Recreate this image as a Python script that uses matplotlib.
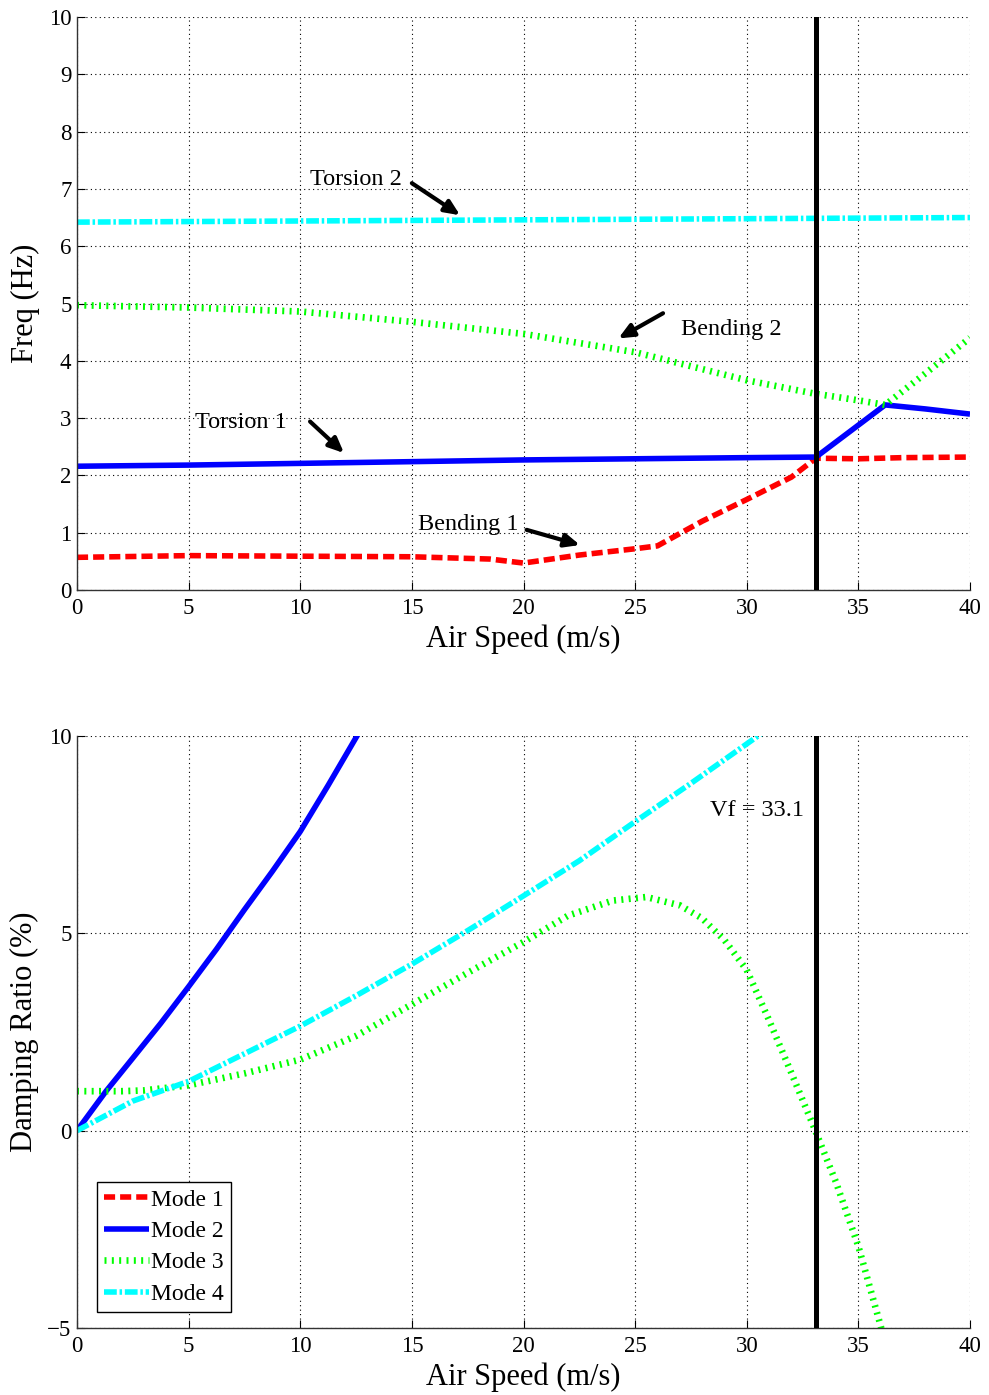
import matplotlib
matplotlib.use("Agg")
import matplotlib.pyplot as plt

# ---------------- data ----------------
# Frequency plot (Hz)
v_m1_f = [0, 5, 10, 15, 18.5, 20, 22.5, 25, 26, 28, 30, 32, 33.1, 35, 37, 40]
f_m1 = [0.57, 0.60, 0.59, 0.58, 0.54, 0.47, 0.61, 0.72, 0.77, 1.20, 1.58, 1.97, 2.30, 2.29, 2.31, 2.32]

v_m2_f = [0, 5, 10, 15, 20, 25, 30, 33.1, 36.2, 38, 40]
f_m2 = [2.16, 2.18, 2.21, 2.24, 2.27, 2.29, 2.31, 2.32, 3.23, 3.16, 3.07]

v_m3_f = [0, 5, 10, 15, 20, 25, 30, 33, 35, 36.2, 38, 40]
f_m3 = [4.97, 4.93, 4.86, 4.68, 4.47, 4.15, 3.66, 3.43, 3.31, 3.23, 3.78, 4.40]

v_m4_f = [0, 10, 20, 30, 40]
f_m4 = [6.42, 6.44, 6.46, 6.48, 6.50]

# Damping plot (%)
v_m2_d = [0, 1.3, 2.5, 3.75, 5, 6.25, 7.5, 8.75, 10, 11.25, 12.54, 14]
d_m2 = [0, 1.0, 1.84, 2.72, 3.65, 4.6, 5.6, 6.57, 7.58, 8.75, 10.0, 11.5]

v_m3_d = [0, 2, 3, 5, 7.5, 10, 12.5, 15, 17.5, 20, 22, 24, 25.5, 27, 28, 29, 30, 31, 32, 33, 34, 35, 36, 36.5]
d_m3 = [1.0, 1.0, 1.02, 1.15, 1.45, 1.8, 2.4, 3.2, 4.0, 4.78, 5.45, 5.83, 5.92, 5.71, 5.38, 4.83, 4.07,
        2.8, 1.46, 0.1, -1.31, -2.93, -4.95, -6.0]

v_m4_d = [0, 2.5, 5, 7.5, 10, 12.5, 15, 17.5, 20, 22.5, 25, 27.5, 30, 32]
d_m4 = [0, 0.75, 1.25, 1.95, 2.65, 3.42, 4.22, 5.07, 5.95, 6.84, 7.83, 8.8, 9.8, 10.6]

v_flutter = 33.1
x_ticks = [0, 5, 10, 15, 20, 25, 30, 35, 40]
f_ticks = list(range(0, 11))
d_ticks = [-5, 0, 5, 10]
mode_labels = ["Mode 1", "Mode 2", "Mode 3", "Mode 4"]

# ---------------- style ----------------
plt.rcParams['font.family'] = ['Liberation Serif', 'DejaVu Serif']

W, H = 989, 1395
fig = plt.figure(figsize=(W / 100, H / 100), dpi=100)

def px_axes(x0, y0, x1, y1):
    return fig.add_axes([x0 / W, 1 - y1 / H, (x1 - x0) / W, (y1 - y0) / H])

ax1 = px_axes(77, 17, 970, 590)
ax2 = px_axes(77, 736, 970, 1328)

LW = 4.0
styles = [
    dict(color=(1, 0, 0), lw=LW, linestyle=(0, (2.0, 0.9)), dash_capstyle='butt'),
    dict(color=(0, 0, 1), lw=LW, linestyle='-', solid_capstyle='butt'),
    dict(color=(0, 1, 0), lw=4.8, linestyle=(0, (0.3, 0.8)), dash_capstyle='butt'),
    dict(color=(0, 1, 1), lw=LW, linestyle=(0, (2.3, 0.5, 0.45, 0.5)), dash_capstyle='butt'),
]

h1, = ax1.plot(v_m1_f, f_m1, **styles[0])
h2, = ax1.plot(v_m2_f, f_m2, **styles[1])
h3, = ax1.plot(v_m3_f, f_m3, **styles[2])
h4, = ax1.plot(v_m4_f, f_m4, **styles[3])
ax1.axvline(v_flutter, color='k', lw=3.6, zorder=5)

ax2.plot(v_m2_d, d_m2, **styles[1])
ax2.plot(v_m3_d, d_m3, **styles[2])
ax2.plot(v_m4_d, d_m4, **styles[3])
ax2.axvline(v_flutter, color='k', lw=3.6, zorder=5)

for ax, yl, yt, ylab in [(ax1, (0, 10), f_ticks, 'Freq (Hz)'),
                         (ax2, (-5, 10), d_ticks, 'Damping Ratio (%)')]:
    ax.set_xlim(0, 40)
    ax.set_ylim(*yl)
    ax.set_xticks(x_ticks)
    ax.set_yticks(yt)
    ax.grid(True, color='k', linestyle=(0, (1, 3)), lw=0.8)
    ax.spines['top'].set_visible(False)
    ax.spines['right'].set_visible(False)
    for s in ('left', 'bottom'):
        ax.spines[s].set_linewidth(1.0)
        ax.spines[s].set_color('#333333')
    ax.tick_params(direction='in', length=6, width=0.8, labelsize=16.5)
    ax.tick_params(axis='x', pad=6)
    ax.tick_params(axis='y', pad=4)
    ax.set_xlabel('Air Speed (m/s)', fontsize=22, labelpad=4)
    ax.set_ylabel(ylab, fontsize=22, labelpad=6)

# annotations (top)
ann_fs = 17.5
arrow = dict(arrowstyle='-|>,head_length=0.9,head_width=0.4', lw=3, color='k', shrinkA=0, shrinkB=0)
ax1.text(10.44, 7.17, 'Torsion 2', fontsize=ann_fs, ha='left', va='center')
ax1.annotate('', xy=(17.16, 6.54), xytext=(15.0, 7.10), arrowprops=arrow)
ax1.text(27.06, 4.54, 'Bending 2', fontsize=ann_fs, ha='left', va='center')
ax1.annotate('', xy=(24.25, 4.39), xytext=(26.25, 4.83), arrowprops=arrow)
ax1.text(5.29, 2.93, 'Torsion 1', fontsize=ann_fs, ha='left', va='center')
ax1.annotate('', xy=(11.96, 2.39), xytext=(10.44, 2.94), arrowprops=arrow)
ax1.text(15.27, 1.15, 'Bending 1', fontsize=ann_fs, ha='left', va='center')
ax1.annotate('', xy=(22.53, 0.785), xytext=(20.14, 1.05), arrowprops=arrow)

ax2.text(28.35, 8.11, 'Vf = 33.1', fontsize=ann_fs, ha='left', va='center')

leg = ax2.legend([h1, h2, h3, h4], mode_labels, loc='lower left',
                 bbox_to_anchor=(0.022, 0.027), fontsize=17, handlelength=1.9,
                 handletextpad=0.1, labelspacing=0.42, borderpad=0.3,
                 borderaxespad=0, fancybox=False, framealpha=1)
leg.get_frame().set_edgecolor('k')
leg.get_frame().set_linewidth(1.0)

fig.savefig('out.png', dpi=100)
